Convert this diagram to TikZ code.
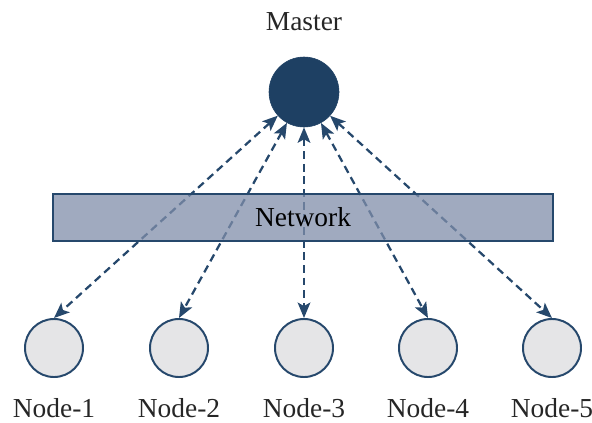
\documentclass[tikz,border=0pt]{standalone}
\usepackage{fontspec}
\setmainfont{Liberation Serif}
\usetikzlibrary{arrows.meta}
\definecolor{masterblue}{RGB}{30,64,99}
\definecolor{edgeblue}{RGB}{38,72,108}
\definecolor{nodegray}{RGB}{229,229,231}
\definecolor{netfill}{RGB}{128,142,170}
\tikzset{
>={Stealth[length=11pt,width=9pt,inset=2.5pt]},
  master/.style={
    circle,
    fill=masterblue,
    draw=masterblue,
    minimum size=1.75cm,
    inner sep=0pt},
  worker/.style={
    circle,
    fill=nodegray,
    draw=edgeblue, line width=1.4pt,
    minimum size=1.45cm,
    inner sep=0pt},
  network/.style={
    rectangle,
    fill=netfill, fill opacity=0.75, text opacity=1,
    draw=edgeblue, draw opacity=1, line width=1.2pt,
    minimum width=12.5cm,
    minimum height=1.175cm,
    font=\fontsize{19.5}{22}\selectfont,
    text centered},
  link/.style={draw=edgeblue, line width=1.6pt, dash pattern=on 5.5pt off 3.5pt, <->},
  lbl/.style={font=\fontsize{19.5}{22}\selectfont, text=black!85},
}
\begin{document}
\begin{tikzpicture}[x=0.025cm, y=-0.025cm]
     \useasboundingbox (0,0) rectangle (592,422);
     \node[master] (Master) at (304,92) {};
     \node[lbl] (MasterLabel) at (304,22) {Master};
     \foreach \i/\x in {1/54,2/179,3/304,4/428,5/552} {
       \node[worker] (Node\i) at (\x,348) {};
       \node[lbl] (Label\i) at (\x,408) {Node-\i};
       \draw[link] (Master) -- (Node\i.north);
     }
     \node[network] (Network) at (303,217.5) {Network};
\end{tikzpicture}
\end{document}
